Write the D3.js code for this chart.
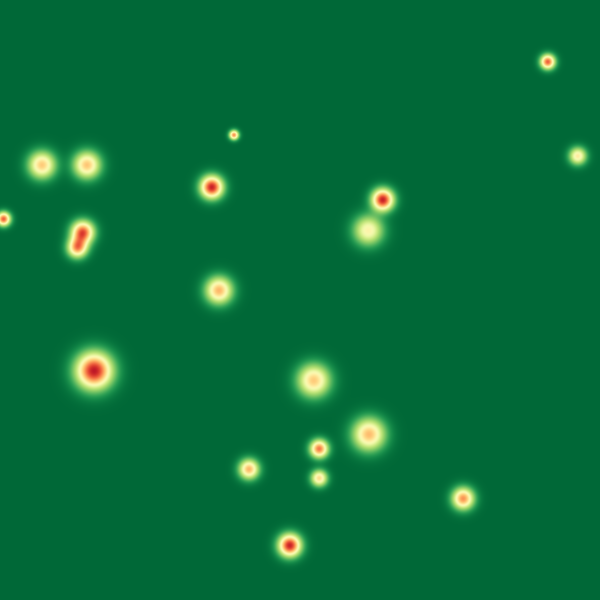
<!DOCTYPE html>
<html>
<head>
<meta charset="utf-8">
<script src="https://cdn.jsdelivr.net/npm/d3@7"></script>
<style>
html,body{margin:0;padding:0;background:#006837;}
canvas{display:block;}
</style>
</head>
<body>
<canvas id="c" width="600" height="600"></canvas>
<script>
// point positions (0-100 space), intensities (0-1) and spread (in 0-100 units)
const xs = [91.3, 39.0, 7.0, 14.5, 96.3, 35.3, 0.6, 63.8, 13.8, 12.9, 61.4, 36.5, 15.7, 52.3, 61.5, 53.2, 41.5, 53.2, 77.2, 48.3];
const ys = [10.3, 22.5, 27.5, 27.5, 26.0, 31.2, 36.5, 33.3, 38.7, 41.3, 38.4, 48.4, 61.8, 63.4, 72.4, 74.8, 78.2, 79.7, 83.1, 90.9];
const values = [0.82, 0.74, 0.64, 0.65, 0.56, 0.93, 0.82, 0.93, 0.84, 0.72, 0.53, 0.68, 0.95, 0.64, 0.67, 0.78, 0.68, 0.60, 0.74, 0.93];
const spreads = [0.85, 0.55, 1.55, 1.55, 1.0, 1.3, 0.8, 1.25, 1.3, 1.15, 1.7, 1.55, 2.1, 1.85, 1.85, 1.05, 1.15, 0.95, 1.25, 1.3];

const W = 600, H = 600;
const x = d3.scaleLinear().domain([0, 100]).range([0, W]);
const y = d3.scaleLinear().domain([0, 100]).range([0, H]);
const s = d3.scaleLinear().domain([0, 100]).range([0, W]);
const color = d3.scaleSequential(t => d3.interpolateRdYlGn(1 - t)).domain([0, 1]).clamp(true);

const pts = xs.map((d, i) => ({cx: x(d), cy: y(ys[i]), w: values[i], sg: s(spreads[i])}));

const lut = [];
for (let i = 0; i < 1024; i++) {
  const c = d3.rgb(color(i / 1023));
  lut.push([c.r, c.g, c.b]);
}

const canvas = document.getElementById('c');
const ctx = canvas.getContext('2d');
const img = ctx.createImageData(W, H);
const field = new Float32Array(W * H);
pts.forEach(p => {
  const R = Math.ceil(p.sg * 4);
  const inv = 1 / (2 * p.sg * p.sg);
  const x0 = Math.max(0, Math.floor(p.cx - R)), x1 = Math.min(W - 1, Math.ceil(p.cx + R));
  const y0 = Math.max(0, Math.floor(p.cy - R)), y1 = Math.min(H - 1, Math.ceil(p.cy + R));
  for (let j = y0; j <= y1; j++) {
    const dy = j + 0.5 - p.cy;
    for (let i = x0; i <= x1; i++) {
      const dx = i + 0.5 - p.cx;
      field[j * W + i] += p.w * Math.exp(-(dx * dx + dy * dy) * inv);
    }
  }
});
for (let k = 0; k < W * H; k++) {
  const v = Math.min(1, Math.max(0, field[k]));
  const c = lut[Math.round(v * 1023)];
  img.data[k * 4] = c[0];
  img.data[k * 4 + 1] = c[1];
  img.data[k * 4 + 2] = c[2];
  img.data[k * 4 + 3] = 255;
}
ctx.putImageData(img, 0, 0);
</script>
</body>
</html>
